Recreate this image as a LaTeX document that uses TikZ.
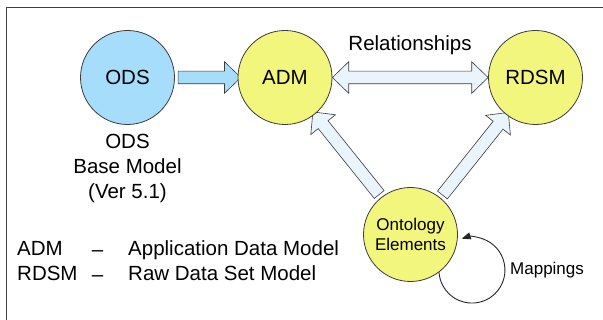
\documentclass[tikz,border=0pt]{standalone}
\usepackage{fontspec}
\setmainfont{Liberation Sans}
\usetikzlibrary{shapes.arrows,arrows.meta,calc,backgrounds}
\definecolor{odsblue}{RGB}{166,221,250}
\definecolor{ylw}{RGB}{242,246,124}
\definecolor{palebl}{RGB}{234,244,252}
\definecolor{edge}{RGB}{60,60,60}
\begin{document}
\begin{tikzpicture}[x=1pt,y=-1pt,
  entity/.style={circle, draw=edge, line width=0.8pt, minimum size=94pt, inner sep=0pt, font=\fontsize{20.5}{24}\selectfont},
  blockarrow/.style={single arrow, draw=edge, line width=0.6pt, inner xsep=0pt, inner ysep=6pt, outer sep=0pt,
    single arrow head extend=9.5pt, single arrow tip angle=88, single arrow head indent=0pt},
  dblarrow/.style={double arrow, draw=edge, line width=0.6pt, inner xsep=0pt, inner ysep=6pt, outer sep=0pt,
    double arrow head extend=9.5pt, double arrow tip angle=88, double arrow head indent=0pt},
  big/.style={inner sep=0pt, font=\fontsize{20.5}{25}\selectfont},
  small/.style={inner sep=0pt, font=\fontsize{17}{20}\selectfont}
]
\useasboundingbox (0,0) rectangle (603,320);
\draw[line width=1.5pt, black!75] (6.5,320) -- (6.5,7.5) -- (603,7.5);

\node[entity, fill=odsblue] (ODS) at (127.5,77.5) {ODS};
\node[entity, fill=ylw] (ADM) at (285,77.5) {ADM};
\node[entity, fill=ylw] (RDSM) at (535.5,77.5) {RDSM};
\node[entity, fill=ylw, font=\fontsize{17}{20}\selectfont, align=center] (Onto) at (410.5,234.5) {Ontology\\Elements};

\begin{scope}[on background layer]
\path let \p1=(ODS.east), \p2=(ADM.west), \n1={veclen(\x2-\x1,\y2-\y1)}, \n2={atan2(\y2-\y1,\x2-\x1)} in
  node[blockarrow, fill=odsblue, minimum height=\n1, rotate=\n2] (a1) at ($(\p1)!0.5!(\p2)$) {};
\path let \p1=(ADM.east), \p2=(RDSM.west), \n1={veclen(\x2-\x1,\y2-\y1)}, \n2={atan2(\y2-\y1,\x2-\x1)} in
  node[dblarrow, fill=palebl, minimum height=\n1, rotate=\n2] (a2) at ($(\p1)!0.5!(\p2)$) {};
\path let \p1=(Onto.128.5), \p2=(ADM.-51.5), \n1={veclen(\x2-\x1,\y2-\y1)}, \n2={atan2(\y2-\y1,\x2-\x1)} in
  node[blockarrow, fill=palebl, minimum height=\n1, rotate=\n2] (a3) at ($(\p1)!0.5!(\p2)$) {};
\path let \p1=(Onto.51.65), \p2=(RDSM.-128.35), \n1={veclen(\x2-\x1,\y2-\y1)}, \n2={atan2(\y2-\y1,\x2-\x1)} in
  node[blockarrow, fill=palebl, minimum height=\n1, rotate=\n2] (a4) at ($(\p1)!0.5!(\p2)$) {};
\end{scope}

\node[big] (rel) at (410,45) {Relationships};
\node[big, align=center] (odslbl) at (127.5,168) {ODS\\Base Model\\(Ver 5.1)};

\draw[line width=0.9pt, black!85, -{Triangle[length=9pt,width=7pt]}] (Onto.-53) arc[start angle=184, end angle=468, radius=33pt];
\node[small, anchor=west] (map) at (510,270) {Mappings};

\node[big, anchor=base west] (k1) at (17,256) {ADM};
\node[big, anchor=base] (d1) at (97.5,256.5) {–};
\node[big, anchor=base west] (v1) at (128,256) {Application Data Model};
\node[big, anchor=base west] (k2) at (17,281) {RDSM};
\node[big, anchor=base] (d2) at (97.5,281.5) {–};
\node[big, anchor=base west] (v2) at (128,281) {Raw Data Set Model};
\end{tikzpicture}
\end{document}
